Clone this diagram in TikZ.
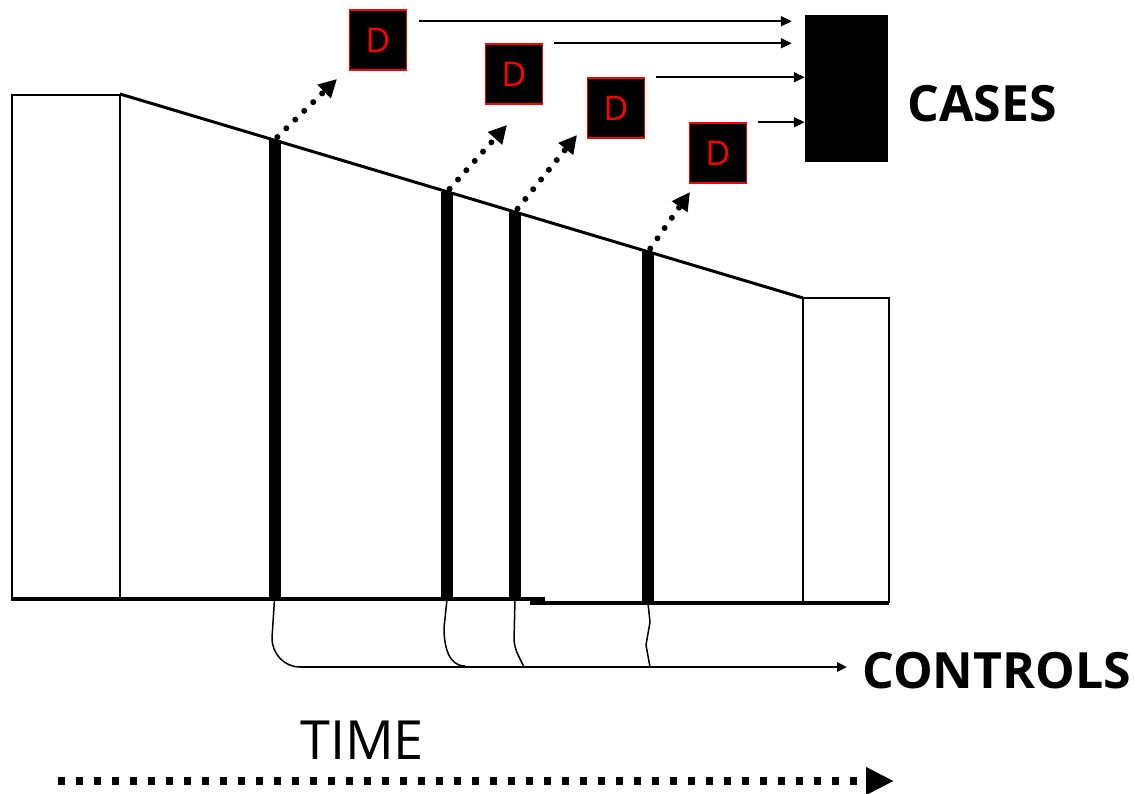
\documentclass[tikz,border=0pt]{standalone}
\usepackage{fontspec}
\setmainfont{Open Sans}
\usetikzlibrary{arrows.meta,calc}

\tikzset{
  thin edge/.style={line width=2pt},
  dbox/.style={fill=black, draw=red, line width=1.5pt, minimum width=57pt,
    minimum height=60pt, inner sep=0pt, text=red, font=\fontsize{34}{34}\selectfont},
  bar/.style={fill=black, inner sep=0pt, minimum width=12pt},
  feed/.style={line width=1.6pt, -{Triangle[length=11pt,width=10pt]}},
  dotarrow/.style={line width=6pt, line cap=round, dash pattern=on 0pt off 12.5pt,
    -{Triangle[length=18pt,width=18pt,line cap=butt]}},
  control/.style={line width=1.5pt},
  label/.style={font=\fontsize{50}{50}\selectfont\bfseries, inner sep=0pt},
}

\begin{document}
\begin{tikzpicture}[x=1pt, y=-1pt]
\useasboundingbox (0,0) rectangle (1135,793);

% population outline: left block, sloping top, right block
\draw[thin edge] (120,600) -- (12,600) -- (12,95) -- (120,95) -- cycle;
\draw[line width=3pt] (120,94) -- (803,298);
\draw[thin edge] (803,298) -- (889,298) -- (889,603);
\draw[thin edge] (803,298) -- (803,603);
\draw[line width=4pt] (12,599) -- (545,599);
\draw[line width=4pt] (530,603) -- (889,603);

% exposure bars reaching up to the sloping top
\node[bar, minimum height=459pt] (b1) at (274.5,369.5) {};
\node[bar, minimum height=407pt] (b2) at (447,395.5) {};
\node[bar, minimum height=387pt] (b3) at (515,405.5) {};
\node[bar, minimum height=351pt] (b4) at (648,427.5) {};

% disease events
\node[dbox] (d1) at (378,40) {D};
\node[dbox] (d2) at (514,74) {D};
\node[dbox] (d3) at (616,108) {D};
\node[dbox] (d4) at (718,153) {D};

% cases block
\node[fill=black, minimum width=83pt, minimum height=147pt, inner sep=0pt] (cases) at (846.5,88.5) {};
\node[label, anchor=west] (casesL) at (907,104) {CASES};

% dotted arrows from bars towards the events
\coordinate (t1) at (337,79);
\coordinate (t2) at (507,125);
\coordinate (t3) at (577,135);
\coordinate (t4) at (690,192);
\draw[dotarrow, shorten <=4pt] (b1.north) -- (t1);
\draw[dotarrow, shorten <=4pt] (b2.north) -- (t2);
\draw[dotarrow, shorten <=4pt] (b3.north) -- (t3);
\draw[dotarrow, shorten <=4pt] (b4.north) -- (t4);

% events feed into the cases block
\coordinate (f1) at ($(d1.north east)+(12,12)$);
\coordinate (f2) at ($(d2.north east)+(11,0)$);
\coordinate (f3) at ($(d3.north east)+(11,0)$);
\coordinate (f4) at ($(d4.north east)+(11,0)$);
\draw[feed, shorten >=13pt] (f1) -- (cases.west |- f1);
\draw[feed, shorten >=13pt] (f2) -- (cases.west |- f2);
\draw[feed] (f3) -- (cases.west |- f3);
\draw[feed] (f4) -- (cases.west |- f4);

% controls sampled at each bar
\node[label, anchor=west] (controlsL) at (862,671) {CONTROLS};
\coordinate (cstart) at (300,667);
\draw[line width=2.5pt, -{Triangle[length=10pt,width=9pt]}] (cstart) -- ([xshift=-15pt]controlsL.west |- cstart);
\draw[control] (b1.south) -- (272,638) to[out=-90,in=180] (cstart);
\draw[control] (b2.south) -- (444,628) to[out=-90,in=180] (465,666);
\draw[control] (b3.south) -- (514,640) to[out=-85,in=115] (524,667);
\draw[control] (b4.south) -- (650,622) -- (646,645) -- (650,667);

% time axis
\node[font=\fontsize{54}{54}\selectfont, inner sep=0pt] (timeL) at (362,740) {TIME};
\coordinate (tstart) at (58,781);
\coordinate (tend) at (894,781);
\draw[line width=8pt, dash pattern=on 7pt off 11pt, -{Triangle[length=28pt,width=26pt]}] (tstart) -- (tend);
\end{tikzpicture}
\end{document}
